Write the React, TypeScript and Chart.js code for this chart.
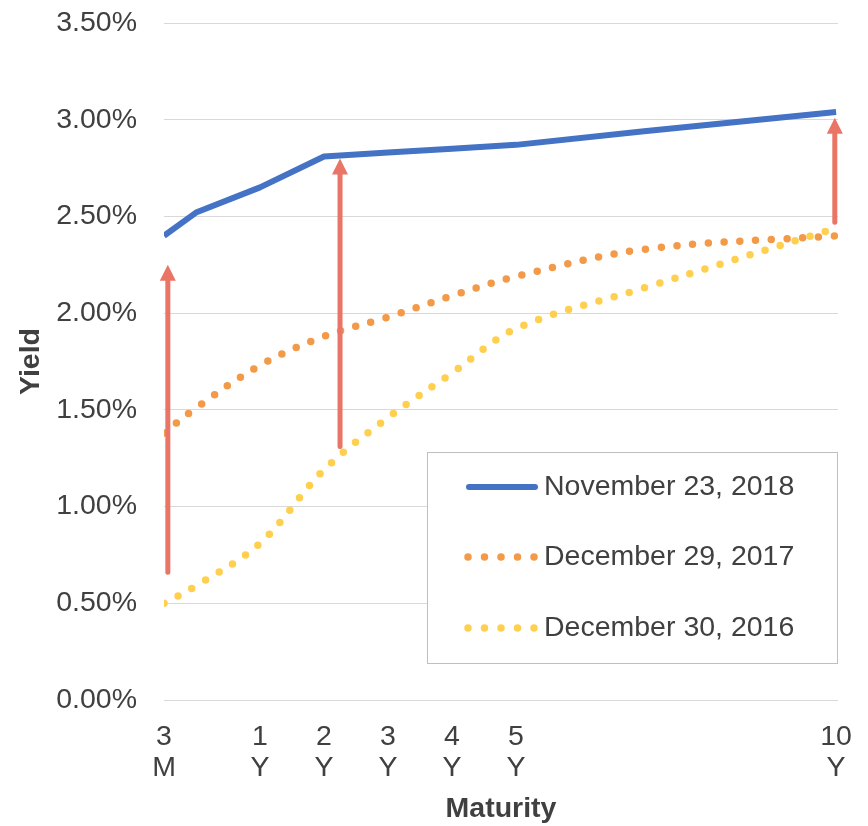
import React, { useEffect, useRef } from "react";
import { Chart, registerables } from "chart.js";

Chart.register(...registerables);

// Treasury yield curves at three dates
const maturityLabels = ["3M", "6M", "1Y", "2Y", "3Y", "4Y", "5Y", "7Y", "10Y"];
const maturityPositions = [-0.5, 0, 1, 2, 3, 4, 5, 7, 10];
const yieldsNov2018 = [2.4, 2.52, 2.65, 2.81, 2.83, 2.85, 2.87, 2.94, 3.04];
const yieldsDec2017 = [1.38, 1.51, 1.73, 1.88, 1.98, 2.09, 2.19, 2.33, 2.4];
const yieldsDec2016 = [0.5, 0.59, 0.81, 1.19, 1.46, 1.69, 1.92, 2.13, 2.44];
const seriesNames = ["November 23, 2018", "December 29, 2017", "December 30, 2016"];

// Axis ticks
const xTickPositions = [-0.5, 1, 2, 3, 4, 5, 10];
const xTickLabels = [["3", "M"], ["1", "Y"], ["2", "Y"], ["3", "Y"], ["4", "Y"], ["5", "Y"], ["10", "Y"]];
const yTickValues = [0, 0.5, 1, 1.5, 2, 2.5, 3, 3.5];

// Arrows showing the rise in yields
const arrowX = [-0.44, 2.25, 9.98];
const arrowFrom = [0.66, 1.31, 2.47];
const arrowTo = [2.25, 2.8, 3.01];

const FONT = "'Liberation Sans', Arial, sans-serif";
const TEXT = "#404040";
const BLUE = "#4472C4";
const ORANGE = "#F39A49";
const YELLOW = "#FFD04F";
const ARROW = "#EA7466";
const FS = 28.5;

const toPoints = (vals: number[]) => vals.map((y, i) => ({ x: maturityPositions[i], y }));

// Keep the plot area fixed by the layout padding only
const noAutoPadding = (scale: any) => {
  scale.paddingTop = 0;
  scale.paddingBottom = 0;
  scale.paddingLeft = 0;
  scale.paddingRight = 0;
};

const arrowPlugin = {
  id: "riseArrows",
  afterDatasetsDraw(chart: any) {
    const { ctx, scales } = chart;
    const xs = scales.x;
    const ys = scales.y;
    ctx.save();
    ctx.strokeStyle = ARROW;
    ctx.fillStyle = ARROW;
    ctx.lineWidth = 5;
    ctx.lineCap = "round";
    const headH = 16;
    const headW = 8;
    arrowX.forEach((xv, i) => {
      const px = xs.getPixelForValue(xv);
      const y0 = ys.getPixelForValue(arrowFrom[i]);
      const y1 = ys.getPixelForValue(arrowTo[i]);
      ctx.beginPath();
      ctx.moveTo(px, y0);
      ctx.lineTo(px, y1 + headH - 2);
      ctx.stroke();
      ctx.beginPath();
      ctx.moveTo(px, y1);
      ctx.lineTo(px - headW, y1 + headH);
      ctx.lineTo(px + headW, y1 + headH);
      ctx.closePath();
      ctx.fill();
    });
    ctx.restore();
  },
};

const legendPlugin = {
  id: "boxLegend",
  afterDraw(chart: any) {
    const ctx = chart.ctx;
    ctx.save();
    const bx = 427.5, by = 452.5, bw = 410, bh = 211;
    ctx.fillStyle = "#ffffff";
    ctx.fillRect(bx, by, bw, bh);
    ctx.strokeStyle = "#BFBFBF";
    ctx.lineWidth = 1;
    ctx.strokeRect(bx, by, bw, bh);
    const rows = [487, 557, 628];
    const colors = [BLUE, ORANGE, YELLOW];
    rows.forEach((ry, i) => {
      ctx.beginPath();
      ctx.strokeStyle = colors[i];
      ctx.lineCap = "round";
      if (i === 0) {
        ctx.setLineDash([]);
        ctx.lineWidth = 6;
        ctx.moveTo(469, ry);
        ctx.lineTo(535, ry);
      } else {
        ctx.setLineDash([0, 16.5]);
        ctx.lineWidth = 7.5;
        ctx.moveTo(468, ry);
        ctx.lineTo(535, ry);
      }
      ctx.stroke();
      ctx.setLineDash([]);
      ctx.fillStyle = TEXT;
      ctx.font = `${FS}px ${FONT}`;
      ctx.textAlign = "left";
      ctx.textBaseline = "middle";
      ctx.fillText(seriesNames[i], 544, ry);
    });
    ctx.restore();
  },
};

export default function App() {
  const ref = useRef<HTMLCanvasElement | null>(null);

  useEffect(() => {
    if (!ref.current) return;
    const chart = new Chart(ref.current, {
      type: "line",
      data: {
        datasets: [
          {
            label: seriesNames[2],
            data: toPoints(yieldsDec2016),
            borderColor: YELLOW,
            borderWidth: 7.5,
            borderDash: [0, 15.8],
            borderCapStyle: "round",
            pointRadius: 0,
            tension: 0.35,
            fill: false,
            order: 3,
          },
          {
            label: seriesNames[1],
            data: toPoints(yieldsDec2017),
            borderColor: ORANGE,
            borderWidth: 7.5,
            borderDash: [0, 15.8],
            borderCapStyle: "round",
            pointRadius: 0,
            tension: 0.35,
            fill: false,
            order: 2,
          },
          {
            label: seriesNames[0],
            data: toPoints(yieldsNov2018),
            borderColor: BLUE,
            borderWidth: 6,
            borderJoinStyle: "round",
            pointRadius: 0,
            tension: 0,
            fill: false,
            order: 1,
          },
        ],
      },
      options: {
        responsive: false,
        animation: false,
        layout: { padding: { left: 0, right: 30, top: 23, bottom: 0 } },
        plugins: { legend: { display: false }, tooltip: { enabled: false } },
        scales: {
          x: {
            type: "linear",
            min: -0.5,
            max: 10.03,
            afterBuildTicks: (scale: any) => {
              scale.ticks = xTickPositions.map((v) => ({ value: v }));
            },
            afterFit: (scale: any) => {
              scale.height = 126;
              noAutoPadding(scale);
            },
            grid: { display: false, drawTicks: false },
            border: { display: false },
            ticks: {
              autoSkip: false,
              maxRotation: 0,
              padding: 22,
              color: TEXT,
              font: { family: FONT, size: FS, lineHeight: 1.07 },
              callback: (value: any) => {
                const idx = xTickPositions.indexOf(Number(value));
                return idx >= 0 ? xTickLabels[idx] : "";
              },
            },
            title: {
              display: true,
              text: "Maturity",
              color: TEXT,
              font: { family: FONT, size: FS, weight: "bold", lineHeight: 1.2 },
              padding: { top: 1, bottom: 0 },
            },
          },
          y: {
            min: 0,
            max: 3.5,
            afterBuildTicks: (scale: any) => {
              scale.ticks = yTickValues.map((v) => ({ value: v }));
            },
            afterFit: (scale: any) => {
              scale.width = 164;
              noAutoPadding(scale);
            },
            grid: { color: "#D9D9D9", lineWidth: 1, drawTicks: false },
            border: { display: false },
            ticks: {
              padding: 27,
              color: TEXT,
              font: { family: FONT, size: FS },
              callback: (value: any) => Number(value).toFixed(2) + "%",
            },
            title: {
              display: true,
              text: "Yield",
              color: TEXT,
              font: { family: FONT, size: FS, weight: "bold", lineHeight: 1.2 },
              padding: { top: 14, bottom: 0 },
            },
          },
        },
      },
      plugins: [arrowPlugin, legendPlugin],
    } as any);
    return () => chart.destroy();
  }, []);

  return (
    <div style={{ position: "fixed", left: 0, top: 0, width: 868, height: 826, background: "#fff" }}>
      <canvas ref={ref} width={868} height={826} style={{ width: 868, height: 826, display: "block" }} />
    </div>
  );
}
